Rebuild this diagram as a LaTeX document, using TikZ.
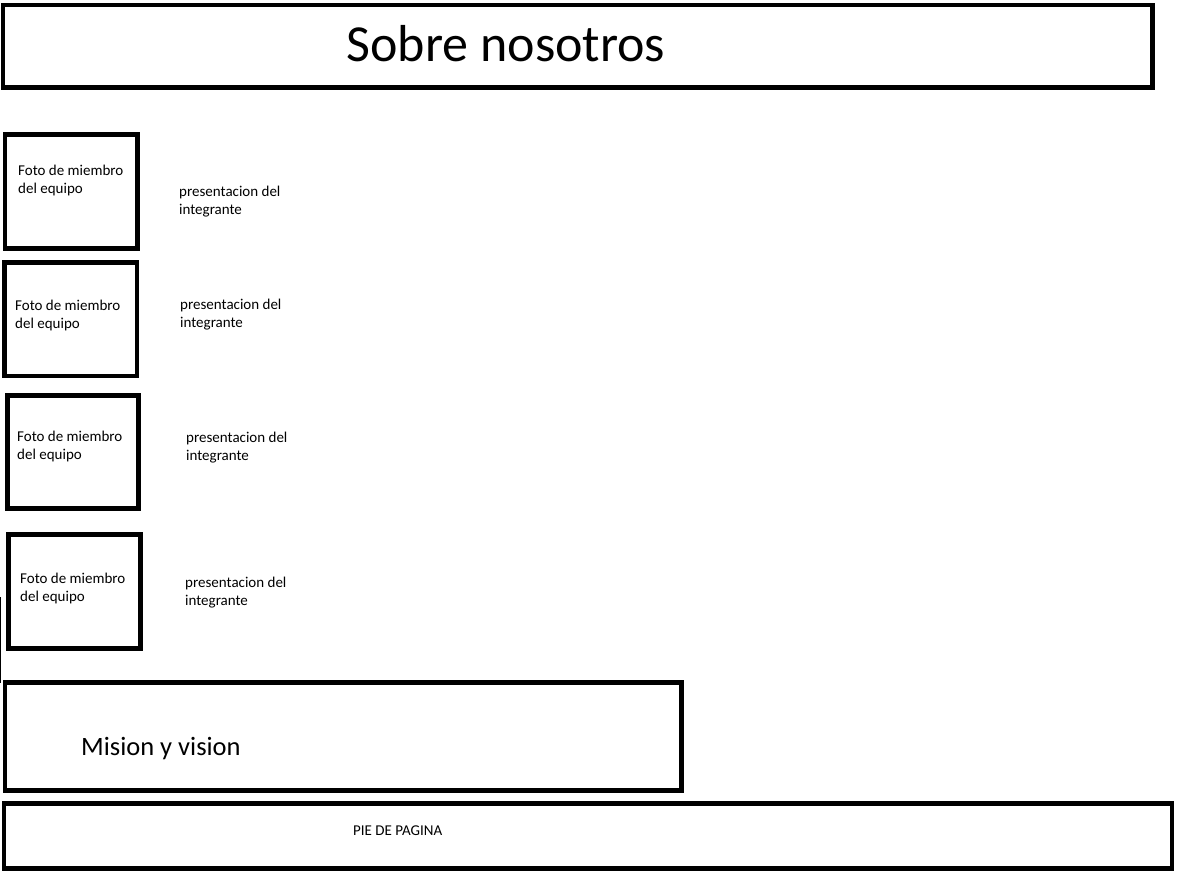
\documentclass[tikz,border=0pt]{standalone}
\usepackage{fontspec}
\setmainfont{Carlito}
\begin{document}
\begin{tikzpicture}[x=1pt,y=-1pt,
  frame/.style={draw=black,line width=4.5pt,inner sep=0pt,outer sep=0pt,fill=none},
  small/.style={font=\fontsize{15}{18}\selectfont,align=left,inner sep=0pt,anchor=base west,text=black}]
\useasboundingbox (0,0) rectangle (1198,871);
\fill[white] (0,0) rectangle (1198,871);
% frames
\node[frame,minimum width=1149.5pt,minimum height=82.5pt] (title) at (577.75,46.25) {};
\node[frame,minimum width=132.5pt,minimum height=114pt] (f1) at (71.25,191.5) {};
\node[frame,minimum width=132.5pt,minimum height=113.5pt] (f2) at (70.75,319.25) {};
\node[frame,minimum width=131pt,minimum height=113pt] (f3) at (73,452) {};
\node[frame,minimum width=132pt,minimum height=114pt] (f4) at (74.5,591.5) {};
\node[frame,minimum width=676.5pt,minimum height=108pt] (mision) at (343.25,736.5) {};
\node[frame,minimum width=1168pt,minimum height=65pt] (pie) at (588,836) {};
% thin line
\coordinate (la) at (0.5,597);
\coordinate (lb) at (0.5,683);
\draw[line width=1pt] (la) -- (lb);
% texts
\node[font=\fontsize{52}{56}\selectfont,anchor=base,inner sep=0pt] (titletext) at (506,61) {Sobre nosotros};
\node[small] (t1) at (18,193) {Foto de miembro\\del equipo};
\node[small] (t2) at (15,328) {Foto de miembro\\del equipo};
\node[small] (t3) at (17,459) {Foto de miembro\\del equipo};
\node[small] (t4) at (20,601) {Foto de miembro\\del equipo};
\node[small] (p1) at (179,214) {presentacion del\\integrante};
\node[small] (p2) at (180,327) {presentacion del\\integrante};
\node[small] (p3) at (186,460) {presentacion del\\integrante};
\node[small] (p4) at (185,605) {presentacion del\\integrante};
\node[font=\fontsize{26.5}{30}\selectfont,anchor=base west,inner sep=0pt] (misiontext) at (81,755) {Mision y vision};
\node[font=\fontsize{15}{18}\selectfont,anchor=base west,inner sep=0pt] (pietext) at (353,835) {PIE DE PAGINA};
\end{tikzpicture}
\end{document}
